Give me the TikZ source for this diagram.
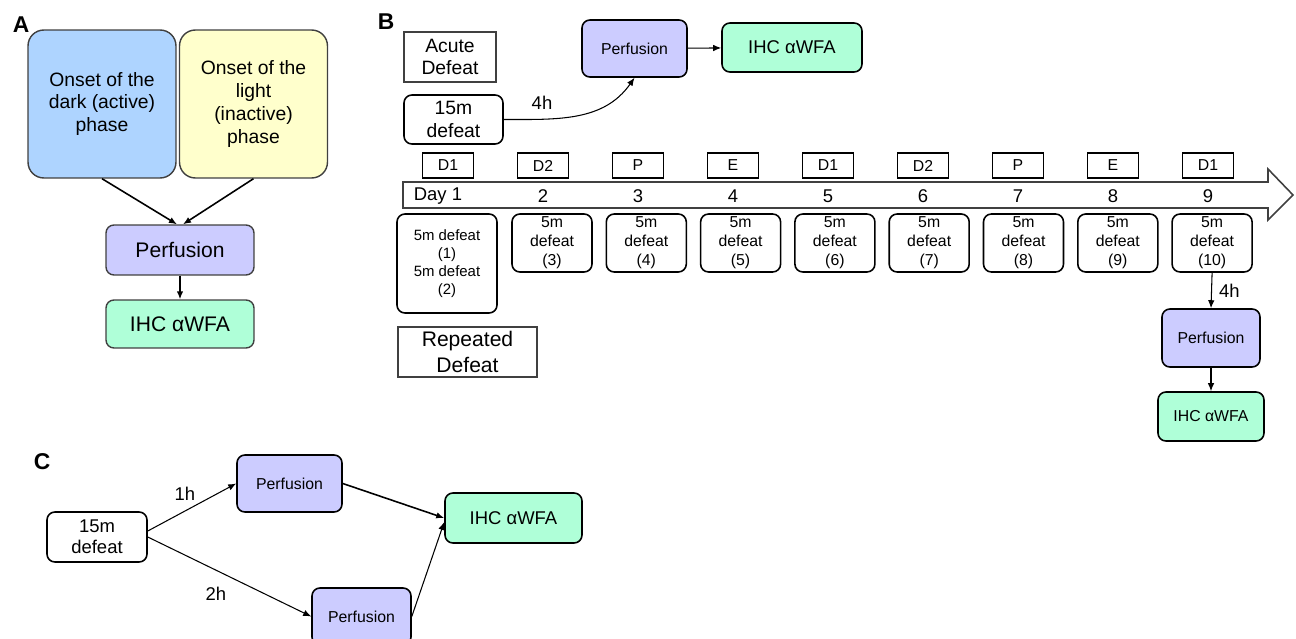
\documentclass[tikz,border=0pt]{standalone}
\usepackage{fontspec}
\setmainfont{Liberation Sans}
\usepackage{tikz}
\usetikzlibrary{arrows.meta,positioning,calc}
\definecolor{phasedark}{HTML}{AED4FF}
\definecolor{phaselight}{HTML}{FFFFCC}
\definecolor{perfcol}{HTML}{CCCCFF}
\definecolor{ihccol}{HTML}{AFFFD8}
\definecolor{edgegrey}{HTML}{404040}
\tikzstyle{phase} = [rectangle, draw=edgegrey, line width=0.8pt, rounded corners=9pt,
    minimum width=2.96cm, minimum height=2.96cm, align=center, font=\fontsize{11}{13}\selectfont]
\tikzstyle{box} = [rectangle, draw=black, line width=0.9pt, rounded corners=4.5pt,
    align=center, inner sep=1pt]
\tikzstyle{tag} = [rectangle, draw=edgegrey, line width=0.6pt, align=center, inner sep=1pt]
\tikzstyle{arrow} = [-{Latex[length=1.6mm,width=1.3mm]}, line width=0.6pt]
\tikzstyle{lbl} = [font=\bfseries\fontsize{13}{15}\selectfont]
\tikzstyle{note} = [font=\fontsize{10.5}{12}\selectfont, inner sep=1pt]

\begin{document}
\begin{tikzpicture}[x=0.02cm, y=-0.02cm]
\useasboundingbox (0,0) rectangle (1296,639);
\clip (0,0) rectangle (1296,639);

% panel A
\node[lbl] (labA) at (21,25) {A};
\node[phase, fill=phasedark] (dark) at (102,104) {Onset of the\\dark (active)\\phase};
\node[phase, fill=phaselight] (light) at (253.5,104) {Onset of the\\light\\(inactive)\\phase};
\node[box, draw=edgegrey, line width=0.8pt, fill=perfcol, minimum width=2.96cm, minimum height=1.0cm,
    font=\fontsize{12}{14}\selectfont] (perfA) at (180,250) {Perfusion};
\node[box, draw=edgegrey, line width=0.8pt, fill=ihccol, minimum width=2.96cm, minimum height=0.96cm,
    font=\fontsize{12}{14}\selectfont] (ihcA) at (180,324) {IHC αWFA};
\draw[arrow, line width=0.9pt] (dark.south) -- ([xshift=-0.06cm]perfA.north);
\draw[arrow, line width=0.9pt] (light.south) -- ([xshift=0.06cm]perfA.north);
\draw[arrow, line width=0.8pt] (perfA) -- (ihcA);

% panel B, acute
\node[lbl] (labB) at (386,22) {B};
\node[tag, minimum width=1.84cm, minimum height=1.0cm, font=\fontsize{11}{13}\selectfont] (acute) at (450,57) {Acute\\Defeat};
\node[box, minimum width=1.98cm, minimum height=0.98cm, font=\fontsize{11}{13}\selectfont] (defeatB) at (453.5,119.5) {15m\\defeat};
\node[box, fill=perfcol, minimum width=2.1cm, minimum height=1.14cm, font=\fontsize{9}{11}\selectfont] (perfB) at (634.5,48.5) {Perfusion};
\node[box, fill=ihccol, minimum width=2.8cm, minimum height=0.98cm, font=\fontsize{10.5}{12}\selectfont] (ihcB) at (792,47.5) {IHC αWFA};
\node[note] (hB) at (542,103) {4h};
\draw[arrow] (defeatB.east) to[out=0, in=-125] (perfB.south);
\draw[arrow] (perfB) -- (ihcB);

% panel B, repeated
\draw[draw=edgegrey, line width=0.9pt] (403,182) -- (1268,182) -- (1268,169) -- (1293,195)
    -- (1268,220) -- (1268,208) -- (403,208) -- cycle;
\node[font=\fontsize{10.5}{12}\selectfont] (day1) at (438,196) {Day 1};
\foreach \d in {2,...,9}
  \node[font=\fontsize{10.5}{12}\selectfont] (day\d) at ({543+95*(\d-2)},196) {\d};
\foreach \s [count=\i] in {D1,D2,P,E,D1,D2,P,E,D1}
  \node[tag, draw=black, minimum width=1.02cm, minimum height=0.5cm, font=\fontsize{9}{11}\selectfont] (sched\i) at ({448+95*(\i-1)},165.5) {\s};
\node[box, minimum width=2.0cm, minimum height=1.98cm, font=\fontsize{8.5}{10.2}\selectfont] (rep1) at (447,263.5) {5m defeat\\(1)\\5m defeat\\(2)};
\foreach \n in {3,...,10}
  \node[box, minimum width=1.6cm, minimum height=1.16cm, font=\fontsize{9}{10.8}\selectfont] (rep\n) at ({552+94.3*(\n-3)},243) {5m\\defeat\\(\n)};
\node[tag, minimum width=2.78cm, minimum height=1.0cm, font=\fontsize{12}{14.7}\selectfont] (repeated) at (467.5,352) {Repeated\\Defeat};
\node[box, fill=perfcol, minimum width=1.96cm, minimum height=1.16cm, font=\fontsize{9}{11}\selectfont] (perfR) at (1211,338) {Perfusion};
\node[box, fill=ihccol, minimum width=2.12cm, minimum height=0.98cm, font=\fontsize{9}{11}\selectfont] (ihcR) at (1211,416.5) {IHC αWFA};
\draw[arrow] (rep10.south) -- node[note, right=3pt] {4h} (perfR.north);
\draw[arrow] (perfR) -- (ihcR);

% panel C
\node[lbl] (labC) at (42,462) {C};
\node[box, minimum width=2.0cm, minimum height=1.0cm, font=\fontsize{10.5}{12}\selectfont] (defeatC) at (97,537) {15m\\defeat};
\node[box, fill=perfcol, minimum width=2.1cm, minimum height=1.14cm, font=\fontsize{9}{11}\selectfont] (perfC1) at (289.5,483.5) {Perfusion};
\node[box, fill=perfcol, minimum width=1.98cm, minimum height=1.14cm, font=\fontsize{9}{11}\selectfont] (perfC2) at (361.5,616.5) {Perfusion};
\node[box, fill=ihccol, minimum width=2.74cm, minimum height=1.0cm, font=\fontsize{10.5}{12}\selectfont] (ihcC) at (513.5,518) {IHC αWFA};
\node[note] (hC1) at (185,494) {1h};
\node[note] (hC2) at (216,594) {2h};
\draw[arrow] ([yshift=0.12cm]defeatC.east) -- (perfC1.west);
\draw[arrow] (defeatC.east) -- (perfC2.west);
\draw[arrow, line width=0.9pt] (perfC1.east) -- (ihcC.west);
\draw[arrow] (perfC2.east) -- ([yshift=-0.08cm]ihcC.west);
\end{tikzpicture}
\end{document}
